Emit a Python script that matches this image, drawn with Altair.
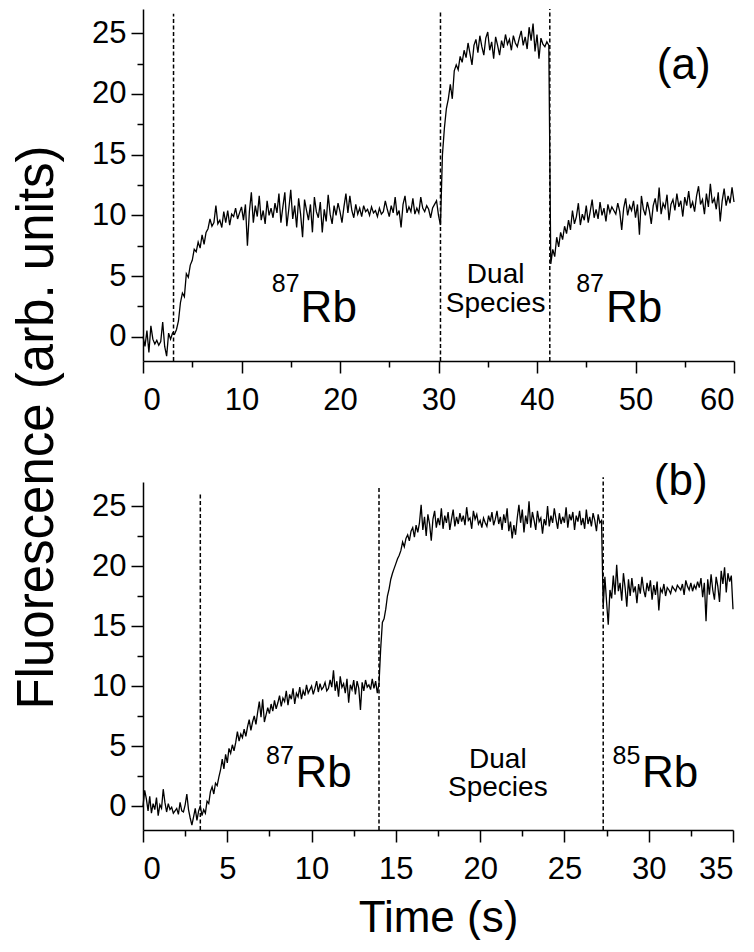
import altair as alt
import pandas as pd

# ---------------- data: panel (a) ----------------
A_STEP = 0.2  # s between samples
a_vals = [
    0.0, -0.8, 0.5, -1.3, 0.9, -0.2, -0.6, -0.3, -0.7, -0.4,
    1.2, -0.8, -1.6, 0.3, -0.2, 0.3, 0.2, 0.6, 1.3, 2.8,
    3.6, 3.3, 5.2, 4.9, 5.9, 6.3, 7.2, 7.0, 7.8, 7.3,
    8.4, 7.6, 8.6, 8.9, 9.7, 9.1, 9.4, 10.8, 9.3, 9.6,
    9.0, 10.3, 9.4, 10.4, 9.2, 10.1, 9.9, 10.6, 9.7, 10.2,
    10.7, 9.6, 10.9, 7.5, 10.3, 11.9, 9.4, 10.8, 9.9, 11.6,
    9.6, 10.4, 9.3, 11.2, 10.0, 10.6, 9.8, 11.0, 10.2, 11.8,
    9.4, 10.7, 11.9, 9.1, 10.5, 12.1, 9.7, 10.8, 9.0, 11.4,
    10.1, 8.2, 11.3, 10.4, 9.6, 10.9, 8.6, 11.5, 10.3, 9.8,
    11.1, 8.6, 10.5, 9.5, 11.7, 10.1, 9.3, 10.8, 10.0, 11.0,
    10.3, 9.4, 10.7, 11.8, 10.2, 11.6, 10.4, 9.8, 10.9, 10.1,
    10.6, 9.9, 10.8, 10.3, 10.5, 10.0, 10.7, 10.2, 10.4, 9.9,
    10.6, 10.1, 10.3, 11.2, 10.5, 9.9, 10.8, 10.2, 11.5, 10.0,
    10.4, 9.0, 10.9, 11.6, 10.2, 10.7, 10.3, 11.4, 10.1, 10.6,
    10.2, 11.5, 10.6, 10.3, 10.8, 10.5, 9.8, 10.6, 10.9, 11.2,
    10.0, 9.2, 15.0, 17.2, 18.8, 19.6, 20.8, 19.6, 21.9, 22.4,
    22.0, 23.1, 22.6, 23.6, 23.0, 24.2, 23.3, 22.4, 24.0, 24.5,
    23.4, 24.8, 23.9, 23.2, 24.6, 25.1, 23.6, 24.3, 22.9, 24.7,
    24.0, 23.2, 24.4, 23.8, 24.9, 24.1, 24.5, 23.6, 24.8, 24.2,
    23.9, 24.6, 25.2, 24.0, 24.7, 23.7, 25.5, 24.4, 25.8, 23.5,
    24.9, 22.9, 24.6, 24.1, 23.9, 24.3, 24.0, 6.0, 7.2, 6.6,
    8.2, 7.4, 8.6, 8.0, 9.1, 8.5, 9.6, 8.8, 10.4, 9.3,
    9.9, 11.0, 9.2, 10.1, 9.6, 10.8, 9.4, 10.3, 11.3, 9.8,
    10.5, 9.7, 11.1, 10.0, 10.6, 9.5, 10.9, 10.2, 10.7, 10.4,
    10.1, 11.0, 10.3, 8.8, 10.6, 11.4, 10.0, 10.8, 10.4, 11.2,
    9.8, 10.9, 8.4, 11.6, 10.5, 10.0, 11.1, 10.4, 9.3, 10.8,
    11.4, 10.3, 12.3, 10.1, 11.0, 10.6, 11.7, 9.6, 10.9, 11.3,
    10.4, 11.8, 10.7, 11.2, 9.9, 11.5, 10.8, 12.0, 10.6, 11.1,
    10.3, 11.6, 12.4, 10.9, 11.3, 10.1, 11.8, 10.7, 12.6, 11.0,
    11.4, 10.5, 11.9, 9.5, 11.2, 12.2, 10.8, 11.6, 11.0, 12.3,
    11.1,
]

# ---------------- data: panel (b) ----------------
B_STEP = 0.1
b_vals = [
    0.0, 1.3, 0.6, -0.4, 0.8, -0.6, 0.2, -0.3, 0.7, -0.8,
    0.1, -0.2, 1.4, 0.3, -0.5, 0.2, -0.3, -0.1, -0.6, -0.4,
    -0.2, -0.7, 0.3, -0.4, -0.5, 0.1, 1.0, -0.3, -1.0, -1.6,
    -0.9, -0.2, -1.2, -0.4, 0.0, -0.8, -0.3, -0.6, 0.4, 0.2,
    1.2, 1.6, 1.0, 1.9, 1.7, 2.4, 3.0, 3.9, 3.1, 4.3,
    3.6, 4.8, 4.4, 5.1, 4.6, 5.3, 6.2, 5.4, 6.0, 5.7,
    6.4, 5.8, 6.6, 7.2, 6.3, 7.0, 7.5, 6.8, 7.8, 8.7,
    7.4, 8.9, 7.0, 7.6, 8.2, 7.7, 8.5, 7.9, 8.8, 8.1,
    8.6, 9.2, 8.3, 9.0, 8.7, 9.6, 8.4, 9.3, 8.9, 9.8,
    8.5, 9.4, 9.1, 9.9, 8.9, 9.6, 9.2, 10.1, 9.4, 9.7,
    10.0, 9.3, 9.8, 10.4, 9.5, 10.2, 9.7, 9.9, 10.3, 9.6,
    9.8, 10.5, 9.9, 11.3, 9.6, 10.4, 9.1, 10.8, 9.9, 10.2,
    9.4, 10.6, 8.6, 10.1, 9.7, 10.5, 9.3, 10.4, 9.8, 8.0,
    10.3, 9.6, 10.5, 9.9, 10.1, 9.7, 10.6, 9.8, 10.4, 9.4,
    10.2, 13.1, 15.3, 15.6, 16.4, 17.5, 18.1, 18.9, 19.4, 19.8,
    20.2, 20.6, 20.9, 21.3, 22.0, 21.6, 22.3, 22.6, 22.1, 22.9,
    23.2, 22.4, 23.4, 22.8, 23.6, 25.1, 23.0, 24.1, 22.5, 24.3,
    23.5, 22.1, 23.9, 24.6, 23.2, 24.0, 23.4, 24.8, 23.1, 24.2,
    23.6, 24.5, 23.0, 23.9, 24.7, 23.3, 24.1, 23.5, 24.4, 23.7,
    24.2, 23.4, 24.9, 23.8, 24.0, 23.1, 24.6, 23.9, 24.3, 23.5,
    23.8, 23.2, 24.0, 23.6, 23.3, 24.2, 23.7, 24.5, 23.4, 23.9,
    24.6, 23.5, 24.1, 23.0, 24.3, 23.6, 24.8, 22.9, 23.7, 22.3,
    23.4, 22.6, 24.0, 25.1, 23.6, 24.7, 22.8, 24.2, 23.5, 25.4,
    23.2, 24.5, 23.8, 23.0, 24.6, 23.7, 24.0, 22.7, 23.9, 23.4,
    25.0, 23.3, 24.2, 23.6, 24.8, 23.9, 23.1, 24.4, 23.5, 24.1,
    23.6, 24.9, 23.2, 24.3, 23.8, 24.5, 23.0, 24.2, 23.7, 24.6,
    23.4, 24.0, 23.1, 24.7, 23.5, 24.1, 23.3, 24.4, 23.8, 22.9,
    24.3, 23.6, 23.8, 16.6, 19.1, 17.0, 15.1, 18.0, 17.3, 19.2,
    17.6, 20.1, 17.9, 18.6, 17.1, 19.4, 18.2, 16.6, 18.9, 17.5,
    19.0, 17.8, 18.3, 16.9, 18.5, 17.7, 19.1, 18.0, 17.4, 18.6,
    17.9, 18.8, 17.2, 18.4, 17.6, 18.7, 16.3, 18.1, 17.8, 18.5,
    17.5, 18.2, 18.0, 17.7, 18.3, 18.1, 17.9, 18.4, 18.2, 18.0,
    18.5, 17.6, 18.8, 18.3, 18.0, 18.6, 17.9, 18.4, 18.1, 18.7,
    18.2, 19.0, 17.4, 18.6, 15.4, 18.9, 17.6, 19.3, 18.0, 17.2,
    19.1, 18.3, 17.0, 19.6, 18.5, 19.9, 17.8, 19.4, 18.7, 19.2,
    16.4,
]

# dashed marker lines (time, top value)
a_lines_t = [3.1, 30.2, 41.3]
a_lines_top = [26.6, 26.8, 27.0]
b_lines_t = [3.4, 14.0, 27.3]
b_lines_top = [26.1, 26.7, 27.4]

# annotations (text, time, value)
a_sup = [("87", 15.9, 3.7), ("87", 46.8, 3.7)]
a_big = [("Rb", 16.0, 1.2), ("Rb", 47.0, 1.2)]
a_small = [("Dual", 35.8, 4.4), ("Species", 35.8, 2.0)]
a_label = [("(a)", 54.9, 21.2)]

b_sup = [("87", 8.95, 3.5), ("85", 29.5, 3.5)]
b_big = [("Rb", 9.05, 1.6), ("Rb", 29.6, 1.6)]
b_small = [("Dual", 21.05, 3.2), ("Species", 21.05, 0.8)]
b_label = [("(b)", 31.9, 25.9)]

Y_DOMAIN = [-2, 27]
a_x_domain = [0, 60]
b_x_domain = [0, 35]
y_ticks = [0, 2.5, 5, 7.5, 10, 12.5, 15, 17.5, 20, 22.5, 25]
a_x_ticks = [0, 5, 10, 15, 20, 25, 30, 35, 40, 45, 50, 55, 60]
b_x_ticks = [0, 2.5, 5, 7.5, 10, 12.5, 15, 17.5, 20, 22.5, 25, 27.5, 30, 32.5, 35]

FONT = "Liberation Sans"


def text_df(items):
    return pd.DataFrame(items, columns=["label", "t", "v"])


def panel(vals, step, xdom, xticks, xmajor, lines_t, lines_top,
          sup, big, small, letter, width, height, xtitle, ytitle):
    df = pd.DataFrame({"t": [round(i * step, 3) for i in range(len(vals))], "v": vals})
    xaxis_kw = dict(
        values=xticks,
        labelExpr=f"datum.value % {xmajor} === 0 ? datum.label : ''",
        tickSize={"condition": {"test": f"datum.value % {xmajor} === 0", "value": 12}, "value": 6},
        title=xtitle,
        labelPadding=12,
    )
    if xtitle:
        xaxis_kw.update(titleY=66)
    yaxis_kw = dict(
        values=y_ticks,
        labelExpr="datum.value % 5 === 0 ? datum.label : ''",
        tickSize={"condition": {"test": "datum.value % 5 === 0", "value": 12}, "value": 6},
        labelPadding=5,
        title=ytitle,
    )
    if ytitle:
        yaxis_kw.update(titleX=-80, titleY=418, titleFontSize=51)
    xs = alt.Scale(domain=xdom, nice=False, zero=False)
    ys = alt.Scale(domain=Y_DOMAIN, nice=False, zero=False)

    line = alt.Chart(df).mark_line(color="black", strokeWidth=1.3)
    rdf = pd.DataFrame({"t": lines_t, "v": [Y_DOMAIN[0]] * len(lines_t), "v2": lines_top})
    rules = alt.Chart(rdf).mark_rule(color="black", strokeWidth=1.5, strokeDash=[4, 2.5]).encode(
        y2="v2:Q"
    )

    def txt(items, size, align):
        return alt.Chart(text_df(items)).mark_text(
            font=FONT, fontSize=size, align=align, baseline="alphabetic", color="black"
        ).encode(text="label:N")

    return alt.layer(
        line, rules,
        txt(sup, 25, "right"), txt(big, 44, "left"),
        txt(small, 28, "center"), txt(letter, 44, "center"),
    ).encode(
        x=alt.X("t:Q", scale=xs, axis=alt.Axis(**xaxis_kw)),
        y=alt.Y("v:Q", scale=ys, axis=alt.Axis(**yaxis_kw)),
    ).properties(width=width, height=height)


top = panel(a_vals, A_STEP, a_x_domain, a_x_ticks, 10, a_lines_t, a_lines_top,
            a_sup, a_big, a_small, a_label, 591, 352, None, "Fluorescence (arb. units)")
bottom = panel(b_vals, B_STEP, b_x_domain, b_x_ticks, 5, b_lines_t, b_lines_top,
               b_sup, b_big, b_small, b_label, 590, 348, "Time (s)", None)

chart = alt.vconcat(top, bottom, spacing=121, bounds="flush").properties(
    padding={"left": 3, "top": 0, "right": 0, "bottom": 0}
).configure_view(stroke=None).configure_axis(
    grid=False,
    domainColor="black", domainWidth=1.5,
    tickColor="black", tickWidth=1.5,
    labelFont=FONT, labelFontSize=31, labelColor="black",
    titleFont=FONT, titleFontSize=44, titleFontWeight="normal", titleColor="black",
)

chart.save("out.html", embed_options={"renderer": "svg", "actions": False})
